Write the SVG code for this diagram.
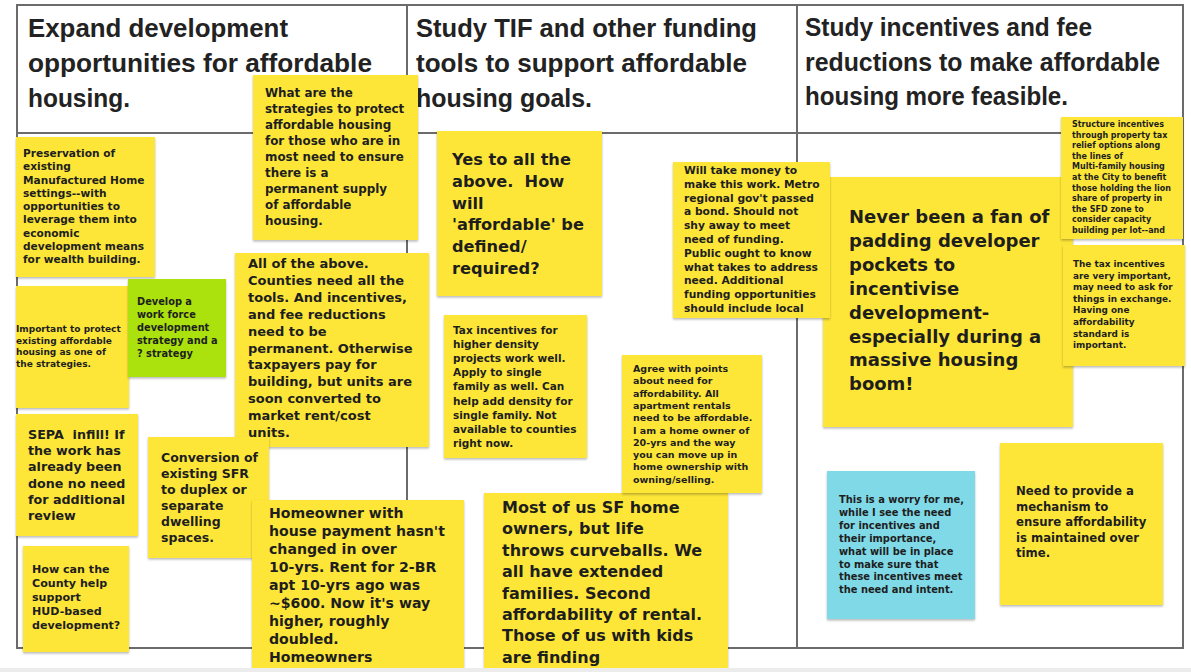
<svg xmlns="http://www.w3.org/2000/svg" width="1191" height="672" viewBox="0 0 1191 672">
<defs>
<filter id="sh" x="-5%" y="-5%" width="110%" height="115%">
<feDropShadow dx="0" dy="1.5" stdDeviation="1.2" flood-color="#000" flood-opacity="0.28"/>
</filter>
<style>
.frame{fill:none;stroke:#6b6b6b;stroke-width:2}
.grid{stroke:#6b6b6b;stroke-width:2}
.hd{font-family:"Liberation Sans",Arial,sans-serif;font-weight:700;font-size:26px;fill:#222222}
.y{fill:#fde637;filter:url(#sh)}
.g{fill:#abe20c;filter:url(#sh)}
.b{fill:#7fd9e7;filter:url(#sh)}
.t{font-family:"DejaVu Sans",sans-serif;font-weight:700;fill:#1e1e1e}
</style>
</defs>
<rect width="1191" height="672" fill="#ffffff"/>
<g id="board">
<rect class="frame" x="17" y="5" width="1166" height="643"/>
<line class="grid" x1="17" y1="133" x2="1183" y2="133"/>
<line class="grid" x1="407" y1="5" x2="407" y2="648"/>
<line class="grid" x1="797" y1="5" x2="797" y2="648"/>
<text class="hd" x="28" y="37" textLength="260" lengthAdjust="spacingAndGlyphs">Expand development</text>
<text class="hd" x="28" y="72" textLength="344" lengthAdjust="spacingAndGlyphs">opportunities for affordable</text>
<text class="hd" x="28" y="107" textLength="102" lengthAdjust="spacingAndGlyphs">housing.</text>
<text class="hd" x="416" y="37" textLength="341" lengthAdjust="spacingAndGlyphs">Study TIF and other funding</text>
<text class="hd" x="416" y="72" textLength="331" lengthAdjust="spacingAndGlyphs">tools to support affordable</text>
<text class="hd" x="416" y="107" textLength="176" lengthAdjust="spacingAndGlyphs">housing goals.</text>
<text class="hd" x="805" y="36" textLength="287" lengthAdjust="spacingAndGlyphs">Study incentives and fee</text>
<text class="hd" x="805" y="70.5" textLength="355" lengthAdjust="spacingAndGlyphs">reductions to make affordable</text>
<text class="hd" x="805" y="105" textLength="263" lengthAdjust="spacingAndGlyphs">housing more feasible.</text>
</g>

<g id="n-preservation">
<rect class="y" x="16" y="137" width="139" height="140"/>
<text class="t" font-size="10.6">
<tspan x="23" y="157">Preservation of</tspan>
<tspan x="23" y="170.25">existing</tspan>
<tspan x="23" y="183.5">Manufactured Home</tspan>
<tspan x="23" y="196.75">settings--with</tspan>
<tspan x="23" y="210">opportunities to</tspan>
<tspan x="23" y="223.25">leverage them into</tspan>
<tspan x="23" y="236.5">economic</tspan>
<tspan x="23" y="249.75">development means</tspan>
<tspan x="23" y="263">for wealth building.</tspan>
</text>
</g>

<g id="n-important">
<rect class="y" x="16" y="286" width="113" height="122"/>
<text class="t" font-size="9">
<tspan x="16" y="332">Important to protect</tspan>
<tspan x="16" y="343.5">existing affordable</tspan>
<tspan x="16" y="355">housing as one of</tspan>
<tspan x="16" y="366.5">the strategies.</tspan>
</text>
</g>

<g id="n-workforce">
<rect class="g" x="128" y="279" width="98" height="98"/>
<text class="t" font-size="9.8">
<tspan x="137" y="305">Develop a</tspan>
<tspan x="137" y="318">work force</tspan>
<tspan x="137" y="331">development</tspan>
<tspan x="137" y="344">strategy and a</tspan>
<tspan x="137" y="357">? strategy</tspan>
</text>
</g>

<g id="n-strategies">
<rect class="y" x="253" y="75" width="165" height="165"/>
<text class="t" font-size="11.9">
<tspan x="265" y="97">What are the</tspan>
<tspan x="265" y="113">strategies to protect</tspan>
<tspan x="265" y="129">affordable housing</tspan>
<tspan x="265" y="145">for those who are in</tspan>
<tspan x="265" y="161">most need to ensure</tspan>
<tspan x="265" y="177">there is a</tspan>
<tspan x="265" y="193">permanent supply</tspan>
<tspan x="265" y="209">of affordable</tspan>
<tspan x="265" y="225">housing.</tspan>
</text>
</g>

<g id="n-allabove">
<rect class="y" x="235" y="253" width="194" height="194"/>
<text class="t" font-size="13">
<tspan x="248" y="268">All of the above.</tspan>
<tspan x="248" y="284.9">Counties need all the</tspan>
<tspan x="248" y="301.8">tools. And incentives,</tspan>
<tspan x="248" y="318.7">and fee reductions</tspan>
<tspan x="248" y="335.6">need to be</tspan>
<tspan x="248" y="352.5">permanent. Otherwise</tspan>
<tspan x="248" y="369.4">taxpayers pay for</tspan>
<tspan x="248" y="386.3">building, but units are</tspan>
<tspan x="248" y="403.2">soon converted to</tspan>
<tspan x="248" y="420.1">market rent/cost</tspan>
<tspan x="248" y="437">units.</tspan>
</text>
</g>

<g id="n-sepa">
<rect class="y" x="16" y="414" width="122" height="122"/>
<text class="t" font-size="12.7">
<tspan x="28" y="439">SEPA&#160; infill! If</tspan>
<tspan x="28" y="455.2">the work has</tspan>
<tspan x="28" y="471.4">already been</tspan>
<tspan x="28" y="487.6">done no need</tspan>
<tspan x="28" y="503.8">for additional</tspan>
<tspan x="28" y="520">review</tspan>
</text>
</g>

<g id="n-hud">
<rect class="y" x="23" y="546" width="106" height="106"/>
<text class="t" font-size="11.1">
<tspan x="32" y="573">How can the</tspan>
<tspan x="32" y="587">County help</tspan>
<tspan x="32" y="601">support</tspan>
<tspan x="32" y="615">HUD-based</tspan>
<tspan x="32" y="629">development?</tspan>
</text>
</g>

<g id="n-conversion">
<rect class="y" x="148" y="437" width="121" height="121"/>
<text class="t" font-size="12.5">
<tspan x="161" y="462">Conversion of</tspan>
<tspan x="161" y="478">existing SFR</tspan>
<tspan x="161" y="494">to duplex or</tspan>
<tspan x="161" y="510">separate</tspan>
<tspan x="161" y="526">dwelling</tspan>
<tspan x="161" y="542">spaces.</tspan>
</text>
</g>

<g id="n-homeowner">
<rect class="y" x="252" y="500" width="212" height="170"/>
<text class="t" font-size="14.1">
<tspan x="269" y="518">Homeowner with</tspan>
<tspan x="269" y="536">house payment hasn't</tspan>
<tspan x="269" y="554">changed in over</tspan>
<tspan x="269" y="572">10-yrs. Rent for 2-BR</tspan>
<tspan x="269" y="590">apt 10-yrs ago was</tspan>
<tspan x="269" y="608">~$600. Now it's way</tspan>
<tspan x="269" y="626">higher, roughly</tspan>
<tspan x="269" y="644">doubled.</tspan>
<tspan x="269" y="662">Homeowners</tspan>
</text>
</g>

<g id="n-defined">
<rect class="y" x="437" y="131" width="165" height="165"/>
<text class="t" font-size="16.2">
<tspan x="452" y="165">Yes to all the</tspan>
<tspan x="452" y="186.8">above.&#160; How</tspan>
<tspan x="452" y="208.6">will</tspan>
<tspan x="452" y="230.4">'affordable' be</tspan>
<tspan x="452" y="252.2">defined/</tspan>
<tspan x="452" y="274">required?</tspan>
</text>
</g>

<g id="n-taxdensity">
<rect class="y" x="444" y="315" width="143" height="143"/>
<text class="t" font-size="10.5">
<tspan x="453" y="334">Tax incentives for</tspan>
<tspan x="453" y="348.1">higher density</tspan>
<tspan x="453" y="362.2">projects work well.</tspan>
<tspan x="453" y="376.3">Apply to single</tspan>
<tspan x="453" y="390.4">family as well. Can</tspan>
<tspan x="453" y="404.5">help add density for</tspan>
<tspan x="453" y="418.6">single family. Not</tspan>
<tspan x="453" y="432.7">available to counties</tspan>
<tspan x="453" y="446.8">right now.</tspan>
</text>
</g>

<g id="n-never">
<rect class="y" x="823" y="177" width="250" height="250"/>
<text class="t" font-size="18">
<tspan x="849" y="223">Never been a fan of</tspan>
<tspan x="849" y="246.9">padding developer</tspan>
<tspan x="849" y="270.8">pockets to</tspan>
<tspan x="849" y="294.7">incentivise</tspan>
<tspan x="849" y="318.6">development-</tspan>
<tspan x="849" y="342.5">especially during a</tspan>
<tspan x="849" y="366.4">massive housing</tspan>
<tspan x="849" y="390.3">boom!</tspan>
</text>
</g>

<g id="n-money">
<rect class="y" x="673" y="162" width="157" height="156"/>
<text class="t" font-size="10.7">
<tspan x="684" y="174">Will take money to</tspan>
<tspan x="684" y="187.8">make this work. Metro</tspan>
<tspan x="684" y="201.6">regional gov't passed</tspan>
<tspan x="684" y="215.4">a bond. Should not</tspan>
<tspan x="684" y="229.2">shy away to meet</tspan>
<tspan x="684" y="243">need of funding.</tspan>
<tspan x="684" y="256.8">Public ought to know</tspan>
<tspan x="684" y="270.6">what takes to address</tspan>
<tspan x="684" y="284.4">need. Additional</tspan>
<tspan x="684" y="298.2">funding opportunities</tspan>
<tspan x="684" y="312">should include local</tspan>
</text>
</g>

<g id="n-mostofus">
<rect class="y" x="484" y="493" width="244" height="177"/>
<text class="t" font-size="16">
<tspan x="502" y="513">Most of us SF home</tspan>
<tspan x="502" y="534.4">owners, but life</tspan>
<tspan x="502" y="555.8">throws curveballs. We</tspan>
<tspan x="502" y="577.2">all have extended</tspan>
<tspan x="502" y="598.6">families. Second</tspan>
<tspan x="502" y="620">affordability of rental.</tspan>
<tspan x="502" y="641.4">Those of us with kids</tspan>
<tspan x="502" y="662.8">are finding</tspan>
</text>
</g>

<g id="n-agree">
<rect class="y" x="622" y="355" width="140" height="138"/>
<text class="t" font-size="9.5">
<tspan x="633" y="372">Agree with points</tspan>
<tspan x="633" y="384.3">about need for</tspan>
<tspan x="633" y="396.6">affordability. All</tspan>
<tspan x="633" y="408.9">apartment rentals</tspan>
<tspan x="633" y="421.2">need to be affordable.</tspan>
<tspan x="633" y="433.5">I am a home owner of</tspan>
<tspan x="633" y="445.8">20-yrs and the way</tspan>
<tspan x="633" y="458.1">you can move up in</tspan>
<tspan x="633" y="470.4">home ownership with</tspan>
<tspan x="633" y="482.7">owning/selling.</tspan>
</text>
</g>

<g id="n-structure">
<rect class="y" x="1061" y="117" width="122" height="122"/>
<text class="t" font-size="8">
<tspan x="1072" y="127">Structure incentives</tspan>
<tspan x="1072" y="137.6">through property tax</tspan>
<tspan x="1072" y="148.2">relief options along</tspan>
<tspan x="1072" y="158.8">the lines of</tspan>
<tspan x="1072" y="169.4">Multi-family housing</tspan>
<tspan x="1072" y="180">at the City to benefit</tspan>
<tspan x="1072" y="190.6">those holding the lion</tspan>
<tspan x="1072" y="201.2">share of property in</tspan>
<tspan x="1072" y="211.8">the SFD zone to</tspan>
<tspan x="1072" y="222.4">consider capacity</tspan>
<tspan x="1072" y="233">building per lot--and</tspan>
</text>
</g>

<g id="n-taximportant">
<rect class="y" x="1063" y="245" width="122" height="121"/>
<text class="t" font-size="8.9">
<tspan x="1073" y="267">The tax incentives</tspan>
<tspan x="1073" y="278.6">are very important,</tspan>
<tspan x="1073" y="290.2">may need to ask for</tspan>
<tspan x="1073" y="301.8">things in exchange.</tspan>
<tspan x="1073" y="313.4">Having one</tspan>
<tspan x="1073" y="325">affordability</tspan>
<tspan x="1073" y="336.6">standard is</tspan>
<tspan x="1073" y="348.2">important.</tspan>
</text>
</g>

<g id="n-worry">
<rect class="b" x="827" y="471" width="148" height="148"/>
<text class="t" font-size="9.9">
<tspan x="839" y="503">This is a worry for me,</tspan>
<tspan x="839" y="515.9">while I see the need</tspan>
<tspan x="839" y="528.8">for incentives and</tspan>
<tspan x="839" y="541.7">their importance,</tspan>
<tspan x="839" y="554.6">what will be in place</tspan>
<tspan x="839" y="567.5">to make sure that</tspan>
<tspan x="839" y="580.4">these incentives meet</tspan>
<tspan x="839" y="593.3">the need and intent.</tspan>
</text>
</g>

<g id="n-mechanism">
<rect class="y" x="1000" y="443" width="163" height="162"/>
<text class="t" font-size="11.7">
<tspan x="1016" y="495">Need to provide a</tspan>
<tspan x="1016" y="510.5">mechanism to</tspan>
<tspan x="1016" y="526">ensure affordability</tspan>
<tspan x="1016" y="541.5">is maintained over</tspan>
<tspan x="1016" y="557">time.</tspan>
</text>
</g>

<rect x="0" y="668" width="1191" height="4" fill="#ececec"/>
</svg>
